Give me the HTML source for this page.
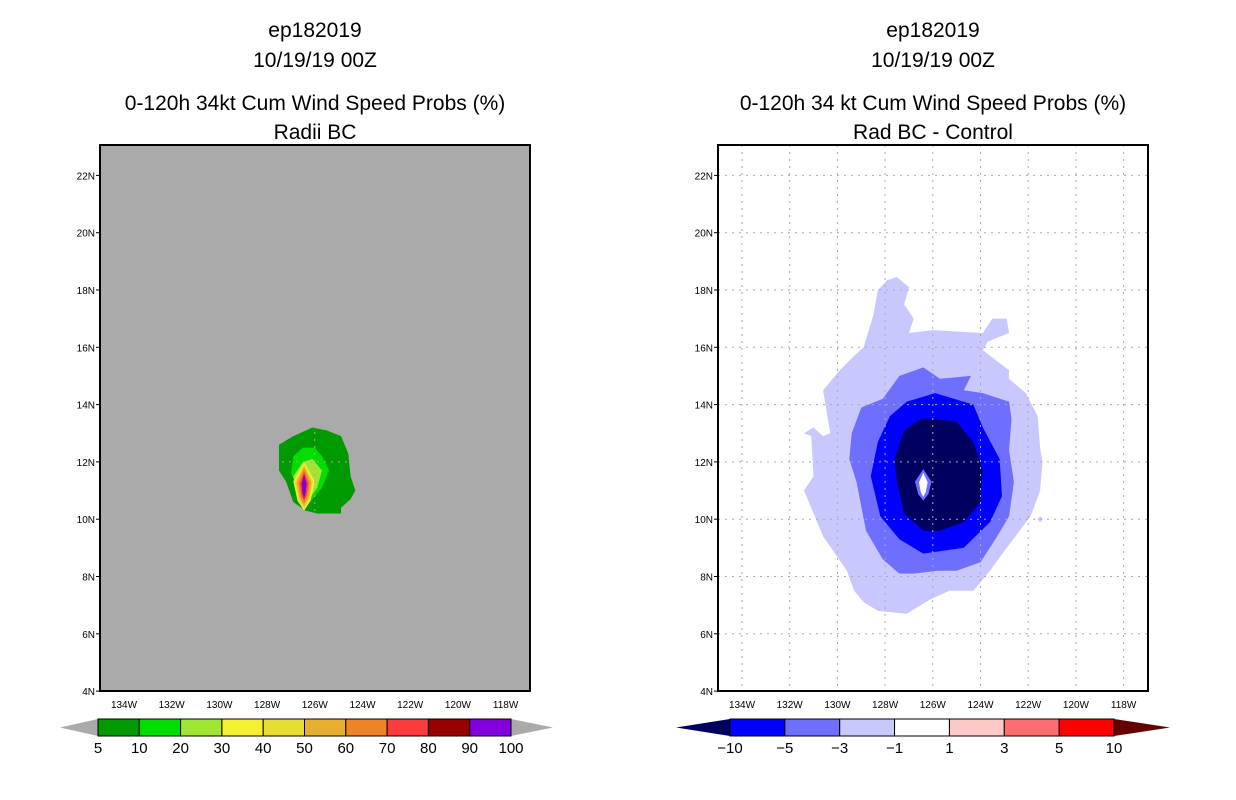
<!DOCTYPE html>
<html><head><meta charset="utf-8"><style>
body{margin:0;background:#fff;}
svg{display:block;font-family:"Liberation Sans",sans-serif;}
</style></head><body>
<svg id="s" width="1236" height="800"></svg>
<script>
const lonTicks=[134,132,130,128,126,124,122,120,118];
const latTicks=[22,20,18,16,14,12,10,8,6,4];
const leftLevels=["5","10","20","30","40","50","60","70","80","90","100"];
const leftColors=["#009900","#00dd00","#a0e632","#f5f032","#e6dc32","#e6af2d","#f08228","#fa3c3c","#960000","#8200dc"];
const rightLevels=["-10","-5","-3","-1","1","3","5","10"];
const rightColors=["#0000ff","#6e6eff","#c8c8ff","#ffffff","#ffc8c8","#ff6e6e","#ff0000"];
// left contours (lon W, lat N)
const lGreenLon=[127.5,126.9,126.1,125.5,124.9,124.6,124.5,124.3,124.5,124.9,124.9,125.9,126.4,126.9,127.2,127.5];
const lGreenLat=[12.6,12.9,13.2,13.1,12.9,12.3,11.5,11.0,10.7,10.4,10.2,10.2,10.3,10.6,11.3,11.7];
const lBrightLon=[127.0,126.9,126.5,126.0,125.7,125.4,125.7,126.2,126.6];
const lBrightLat=[11.6,12.2,12.5,12.5,12.2,11.7,11.1,10.6,10.9];
const lYgLon=[126.9,126.5,126.1,125.7,125.9,126.4,126.8];
const lYgLat=[11.5,12.0,12.1,11.7,11.1,10.5,11.1];
const coreLon=126.45, coreLat=11.15;
const coreHalfLon=[0.45,0.38,0.32,0.25,0.18,0.1];
const coreHalfLat=[0.85,0.78,0.7,0.6,0.5,0.4];
// right contours
const rOuterLon=[127.5,127.0,127.2,126.8,127.0,126.0,123.9,123.5,122.9,122.8,123.7,123.9,122.8,122.8,122.1,121.6,121.5,121.4,121.5,121.9,122.9,123.6,124.3,125.3,126.1,126.7,127.1,128.3,128.9,129.3,129.6,130.6,131.4,131.0,131.1,131.4,131.0,130.6,130.3,130.6,129.9,129.3,128.9,128.5,128.3,127.9];
const rOuterLat=[18.45,18.1,17.5,17.0,16.5,16.6,16.5,17.0,17.0,16.5,16.2,15.9,15.2,14.9,14.4,13.6,12.5,12.0,11.0,10.1,9.0,8.2,7.5,7.5,7.2,6.9,6.7,6.8,7.1,7.5,8.2,9.4,11.0,11.5,12.9,13.0,13.2,12.9,13.0,14.5,15.2,15.7,16.0,17.1,18.0,18.35];
const rMidLon=[129.5,129.4,129.0,128.1,127.4,126.4,125.7,124.4,124.7,123.9,122.8,122.7,122.8,122.6,122.8,123.3,124.0,125.0,125.8,126.8,127.4,128.1,128.8,129.2];
const rMidLat=[12.1,13.0,13.9,14.2,15.0,15.3,14.9,15.0,14.5,14.4,14.1,13.5,12.4,11.3,10.1,9.4,8.5,8.2,8.2,8.1,8.1,8.6,9.6,11.3];
const rBlueLon=[125.9,124.3,123.9,123.2,123.1,123.6,124.7,126.4,127.4,128.2,128.6,128.3,127.8,127.1];
const rBlueLat=[14.4,14.0,13.2,12.1,10.8,9.9,9.0,8.8,9.3,10.1,11.5,12.7,13.6,14.1];
const rNavyLon=[126.0,125.0,124.3,123.9,124.0,124.7,125.7,126.4,127.2,127.5,127.6,127.2,126.5];
const rNavyLat=[13.5,13.4,12.7,11.7,10.6,9.9,9.6,9.6,10.2,11.3,12.1,13.1,13.5];
const rCenterLon=126.4, rCenterLat=11.2;
const rCenterHalfLon=[0.35,0.18];
const rCenterHalfLat=[0.55,0.42];
const rBlobLon=121.5, rBlobLat=10.0;

const S=document.getElementById('s'),NS="http://www.w3.org/2000/svg";
function el(t,a,p){const e=document.createElementNS(NS,t);for(const k in a)e.setAttribute(k,a[k]);(p||S).appendChild(e);return e;}
function txt(x,y,s,size,anchor,p){const e=el('text',{x:x,y:y,'font-size':size,'text-anchor':anchor||'middle',fill:'#000'},p);e.textContent=s;return e;}
const PY0=145,PY1=691;
function X(off,lon){return off+124+(134-lon)*23.85;}
function Y(lat){return 290+(18-lat)*28.65;}
function poly(off,lons,lats,fill,g,name){
  const pts=lons.map((l,i)=>X(off,l).toFixed(1)+','+Y(lats[i]).toFixed(1)).join(' ');
  const p=el('polygon',{points:pts,fill:fill},g);
  
  
}
function diamond(off,lon,lat,hl,ht,fill,g,name){
  poly(off,[lon,lon-hl,lon-hl*0.6,lon,lon+hl*0.6,lon+hl],[lat+ht,lat+ht*0.2,lat-ht*0.6,lat-ht,lat-ht*0.6,lat+ht*0.2],fill,g,name);
}
function panel(off,bg,grid,titles,name){
  const g=el('g',{});
  
  
  const x0=100+off,x1=530+off;
  const bgR=el('rect',{x:x0,y:PY0,width:x1-x0,height:PY1-PY0,fill:bg},g);
  
  
  const cg=el('g',{},g);
  const gg=el('g',{stroke:grid,'stroke-width':1,'stroke-dasharray':'2,5','class':'grid'},g);
  lonTicks.forEach(l=>{const x=X(off,l);el('line',{x1:x,x2:x,y1:PY0,y2:PY1},gg);});
  latTicks.forEach(l=>{el('line',{x1:x0,x2:x1,y1:Y(l),y2:Y(l)},gg);});
  el('rect',{x:x0,y:PY0,width:x1-x0,height:PY1-PY0,fill:'none',stroke:'#000','stroke-width':2,'class':'frame'},g);
  lonTicks.forEach(l=>{const x=X(off,l);
    const t=txt(x,708,l+'W',10,'middle',g);
    
    });
  latTicks.forEach(l=>{
    el('line',{x1:x0-4,x2:x0,y1:Y(l),y2:Y(l),stroke:'#000'},g);
    const t=txt(x0-5,Y(l)+4,l+'N',10,'end',g);
    
    });
  const cx=(x0+x1)/2;
  [[37,titles[0]],[67,titles[1]],[110,titles[2]],[139,titles[3]]].forEach(([y,s])=>{
    const t=txt(cx,y,s,21,'middle',g);
    
    });
  return cg;
}
// left panel
const lg=panel(0,'#aaaaaa','#aaaaaa',['ep182019','10/19/19 00Z','0-120h 34kt Cum Wind Speed Probs (%)','Radii BC'],'left-panel');
poly(0,lGreenLon,lGreenLat,leftColors[0],lg,'contour-5-10');
poly(0,lBrightLon,lBrightLat,leftColors[1],lg,'contour-10-20');
poly(0,lYgLon,lYgLat,leftColors[2],lg,'contour-20-30');
coreHalfLon.forEach((h,i)=>diamond(0,coreLon,coreLat,h,coreHalfLat[i],leftColors[i+3]||leftColors[9],lg,'contour-core'));
diamond(0,coreLon,coreLat,coreHalfLon[5],coreHalfLat[5],leftColors[9],lg,'contour-90-100');
// right panel
const rg=panel(618,'#ffffff','#aaaaaa',['ep182019','10/19/19 00Z','0-120h 34 kt Cum Wind Speed Probs (%)','Rad BC - Control'],'right-panel');
poly(618,rOuterLon,rOuterLat,'#c8c8ff',rg,'contour-neg3-neg1');
diamond(618,rBlobLon,rBlobLat,0.1,0.1,'#c8c8ff',rg,'contour-blob');
poly(618,rMidLon,rMidLat,'#6e6eff',rg,'contour-neg5-neg3');
poly(618,rBlueLon,rBlueLat,'#0000ff',rg,'contour-neg10-neg5');
poly(618,rNavyLon,rNavyLat,'#000060',rg,'contour-below-neg10');
diamond(618,rCenterLon,rCenterLat,rCenterHalfLon[0],rCenterHalfLat[0],'#6e6eff',rg,'contour-center-halo');
diamond(618,rCenterLon,rCenterLat,rCenterHalfLon[1],rCenterHalfLat[1],'#ffffff',rg,'contour-center');
// colorbars
function colorbar(x0,x1,tl,tr,colors,labels,lc,rc,name){
  const g=el('g',{});
  
  
  const y0=719,y1=736,ym=(y0+y1)/2;
  el('polygon',{points:`${tl},${ym} ${x0},${y0} ${x0},${y1}`,fill:lc},g);
  el('polygon',{points:`${tr},${ym} ${x1},${y0} ${x1},${y1}`,fill:rc},g);
  const w=(x1-x0)/colors.length;
  colors.forEach((c,i)=>{const r=el('rect',{x:x0+i*w,y:y0,width:w,height:y1-y0,fill:c,stroke:'#000','stroke-width':1},g);
    
    });
  labels.forEach((s,i)=>{const t=txt(x0+i*w,753,s.replace('-','\u2212'),15,'middle',g);
    
    });
}
colorbar(98,511,60,553,leftColors,leftLevels,'#aaaaaa','#aaaaaa','left-colorbar');
colorbar(730,1114,676,1170,rightColors,rightLevels,'#000060','#640000','right-colorbar');
</script>
</body></html>
